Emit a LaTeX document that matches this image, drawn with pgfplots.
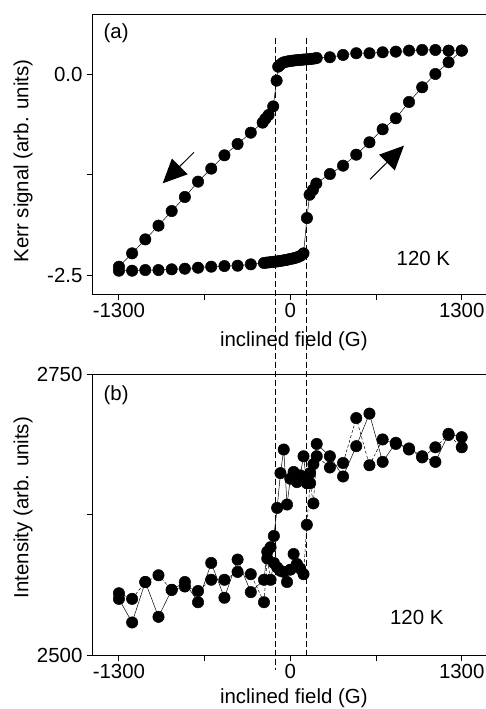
\documentclass[border=0pt]{standalone}
\usepackage{pgfplots}
\usepackage{pgfplotstable}
\pgfplotsset{compat=1.18}
\usetikzlibrary{arrows.meta}
\usepackage{fontspec}
\setmainfont{Liberation Sans}

\newcommand\fs{\fontsize{20.5}{24}\selectfont}

% Kerr loop: field down from +1300, then back up
\pgfplotstableread{
x y
1300 0.295
1200 0.295
1100 0.303
1000 0.303
900 0.295
800 0.282
700 0.274
600 0.262
500 0.262
400 0.241
300 0.212
200 0.203
180 0.196
160 0.192
140 0.189
120 0.186
100 0.183
80 0.180
60 0.177
40 0.174
20 0.170
0 0.166
-20 0.160
-40 0.154
-60 0.140
-80 0.115
-92 0.095
-104 -0.079
-130 -0.400
-165 -0.507
-190 -0.556
-210 -0.602
-300 -0.727
-400 -0.868
-500 -1.009
-600 -1.175
-700 -1.337
-800 -1.528
-900 -1.703
-1000 -1.885
-1100 -2.056
-1200 -2.230
-1300 -2.396
-1300 -2.446
-1200 -2.446
-1100 -2.438
-1000 -2.438
-900 -2.429
-800 -2.421
-700 -2.409
-600 -2.396
-500 -2.388
-400 -2.384
-300 -2.367
-200 -2.350
-180 -2.346
-160 -2.342
-140 -2.338
-120 -2.334
-100 -2.330
-80 -2.325
-60 -2.320
-40 -2.314
-20 -2.308
0 -2.300
20 -2.293
40 -2.285
60 -2.274
80 -2.258
100 -2.230
126 -1.790
146 -1.500
171 -1.440
197 -1.360
300 -1.242
400 -1.138
500 -1.001
600 -0.847
700 -0.685
800 -0.548
900 -0.345
1000 -0.162
1100 0.004
1200 0.150
1300 0.295
}\kerr

\pgfplotstableread{
x y
1300 2694
1200 2697
1100 2672
1000 2677
900 2684
800 2689
700 2672
600 2715
500 2686
400 2659
300 2677
200 2688
175 2670
150 2662
125 2653
100 2677
75 2660
50 2654
25 2663
0 2657
-25 2634
-50 2683
-75 2662
-100 2631
-125 2606
-150 2596
-175 2592
-200 2567
-300 2556
-400 2585
-500 2551
-600 2582
-700 2547
-800 2565
-900 2558
-1000 2534
-1100 2565
-1200 2529
-1300 2550
}\intdown

\pgfplotstableread{
x y
-1300 2555
-1200 2550
-1100 2565
-1000 2571
-900 2558
-800 2561
-700 2557
-600 2567
-500 2567
-400 2574
-300 2572
-200 2547
-175 2586
-150 2567
-125 2582
-100 2578
-75 2575
-50 2574
-25 2565
0 2576
25 2590
50 2581
75 2577
100 2572
125 2616
150 2653
175 2635
200 2677
300 2667
400 2671
500 2711
600 2669
700 2692
800 2688
900 2683
1000 2676
1100 2685
1200 2696
1300 2685
}\intup

\pgfplotsset{
  panel/.style={
    scale only axis, width=393.7bp, height=280bp,
    xmin=-1502, xmax=1484,
    axis x line*=box, axis y line*=left,
    axis line style={line width=1bp,-},
    xtick pos=left, ytick pos=left,
    tick align=outside, major tick length=5.7bp,
    tick style={line width=1bp, black},
    xtick={-1300,-650,0,650,1300}, xticklabels={-1300,,0,,1300},
    ticklabel style={font=\fs},
    yticklabel style={inner sep=4bp},
    label style={font=\fs},
    xlabel={inclined field (G)},
    clip=false,
  },
  dots/.style={black, line width=0.5bp, mark=*, mark size=5.7bp,
    mark options={solid, fill=black}},
}

\begin{document}
\begin{tikzpicture}
\useasboundingbox (0,0) rectangle (486bp,-709bp);

\begin{axis}[panel, at={(92.3bp,-14.3bp)}, anchor=north west,
  ymin=-2.74, ymax=0.747,
  ytick={-2.5,-1.25,0}, yticklabels={-2.5,,0.0},
  ylabel={Kerr signal (arb. units)},
  ylabel style={at={(axis description cs:-0.176,0.476)}, anchor=center},
  xlabel style={at={(axis description cs:0.512,-0.169)}, anchor=center},
  ]
  \addplot[dots] table[x=x, y=y] {\kerr};
  \node[font=\fs, anchor=west] at (axis description cs:0.02,0.933) {(a)};
  \node[font=\fs] at (axis cs:1009,-2.29) {120 K};
  \draw[line width=1bp, -{Triangle[length=24bp,width=22bp]}]
    (axis cs:-731,-0.972) -- (axis cs:-968,-1.358);
  \draw[line width=1bp, -{Triangle[length=24bp,width=22bp]}]
    (axis cs:604,-1.308) -- (axis cs:862,-0.889);
  \coordinate (d1t) at (axis cs:-112.7,0.456);
  \coordinate (d2t) at (axis cs:122.5,0.456);
\end{axis}

\begin{axis}[panel, at={(92.3bp,-374.3bp)}, anchor=north west,
  height=280.7bp,
  ymin=2500, ymax=2750,
  ytick={2500,2625,2750}, yticklabels={2500,,2750},
  ylabel={Intensity (arb. units)},
  ylabel style={at={(axis description cs:-0.176,0.525)}, anchor=center},
  xlabel style={at={(axis description cs:0.512,-0.154)}, anchor=center},
  ]
  \addplot[dots] table[x=x, y=y] {\intdown};
  \addplot[dots, densely dashed] table[x=x, y=y] {\intup};
  \node[font=\fs, anchor=west] at (axis description cs:0.02,0.926) {(b)};
  \node[font=\fs] at (axis cs:959,2533) {120 K};
  \coordinate (d1b) at (axis cs:-112.7,2487);
  \coordinate (d2b) at (axis cs:122.5,2500);
\end{axis}

\draw[dash pattern=on 6bp off 3bp, line width=1bp] (d1t) -- (d1b);
\draw[dash pattern=on 6bp off 3bp, line width=1bp] (d2t) -- (d2b);
\end{tikzpicture}
\end{document}
